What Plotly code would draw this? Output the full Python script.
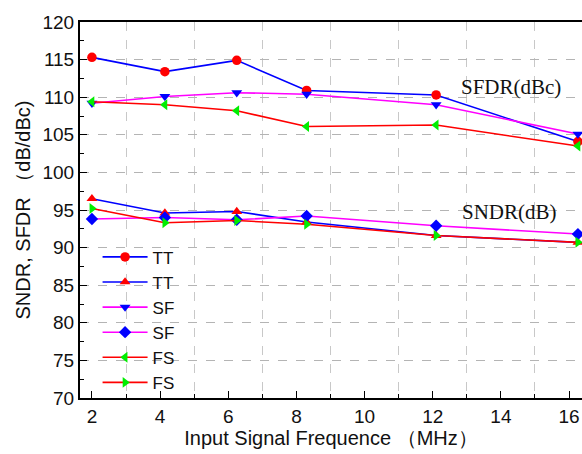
import plotly.graph_objects as go

# frequencies (MHz)
freq = [2.0, 4.14, 6.25, 8.3, 12.1, 16.26]

# SFDR (dBc)
sfdr_tt = [115.3, 113.4, 114.9, 110.9, 110.3, 104.1]
sfdr_sf = [109.2, 110.1, 110.6, 110.4, 109.0, 105.1]
sfdr_fs = [109.4, 109.0, 108.2, 106.1, 106.3, 103.5]

# SNDR (dB)
sndr_tt = [96.5, 94.6, 94.8, 93.4, 91.6, 90.7]
sndr_sf = [93.8, 94.0, 93.7, 94.2, 92.9, 91.8]
sndr_fs = [95.2, 93.3, 93.6, 93.1, 91.6, 90.7]

series = [
    ("TT", sfdr_tt, "#0000ff", "#ff0000", "circle"),
    ("TT", sndr_tt, "#0000ff", "#ff0000", "triangle-up"),
    ("SF", sfdr_sf, "#ff00ff", "#0000ff", "triangle-down"),
    ("SF", sndr_sf, "#ff00ff", "#0000ff", "diamond"),
    ("FS", sfdr_fs, "#ff0000", "#00ee00", "triangle-left"),
    ("FS", sndr_fs, "#ff0000", "#00ee00", "triangle-right"),
]

fig = go.Figure()
for name, vals, lc, mc, sym in series:
    fig.add_trace(go.Scatter(
        x=freq, y=vals, mode="lines+markers", name=name,
        line=dict(color=lc, width=1.6),
        marker=dict(color=mc, symbol=sym, size=9.5),
        cliponaxis=False,
    ))

fig.add_annotation(x=14.3, y=111.4, text="SFDR(dBc)", showarrow=False,
                   font=dict(family="Liberation Serif, serif", size=21, color="#111"))
fig.add_annotation(x=14.25, y=94.7, text="SNDR(dB)", showarrow=False,
                   font=dict(family="Liberation Serif, serif", size=21, color="#111"))

axis_font = dict(family="Arial, Liberation Sans, sans-serif", size=19, color="#111")

fig.update_layout(
    width=582, height=454,
    margin=dict(l=80, r=0, t=22, b=56),
    paper_bgcolor="white", plot_bgcolor="white",
    font=axis_font,
    legend=dict(x=0.035, y=0.422, xanchor="left", yanchor="top",
                bgcolor="rgba(0,0,0,0)", font=dict(size=17, color="#111"),
                tracegroupgap=0, itemwidth=45),
    xaxis=dict(
        range=[1.65, 16.38], dtick=2, tick0=0, automargin=False,
        showline=True, linecolor="black", linewidth=2, mirror=True,
        ticks="inside", ticklen=7, tickcolor="black",
        showgrid=False, zeroline=False,
        minor=dict(dtick=2, tick0=1, ticks="inside", ticklen=4, tickcolor="black",
                   showgrid=True, gridcolor="#c8c8c8", griddash="dash", gridwidth=1),
        title=dict(text="Input Signal Frequence （MHz）",
                   font=dict(family="Arial, Liberation Sans, sans-serif", size=20, color="#111"),
                   standoff=4),
        tickfont=axis_font,
    ),
    yaxis=dict(
        range=[70, 120], dtick=5, automargin=False,
        showline=True, linecolor="black", linewidth=2, mirror=False,
        ticks="inside", ticklen=7, tickcolor="black",
        showgrid=True, gridcolor="#b4b4b4", griddash="dash", gridwidth=1,
        zeroline=False,
        minor=dict(dtick=2.5, ticks="inside", ticklen=4, tickcolor="black"),
        title=dict(text="SNDR, SFDR （dB/dBc)",
                   font=dict(family="Arial, Liberation Sans, sans-serif", size=20, color="#111"),
                   standoff=6),
        tickfont=axis_font,
    ),
)

# drop the default 8px body margin so the figure fills the window exactly
fig.write_html("out.html", config={"displayModeBar": False},
               post_script="document.body.style.margin='0';document.body.style.overflow='hidden';")
